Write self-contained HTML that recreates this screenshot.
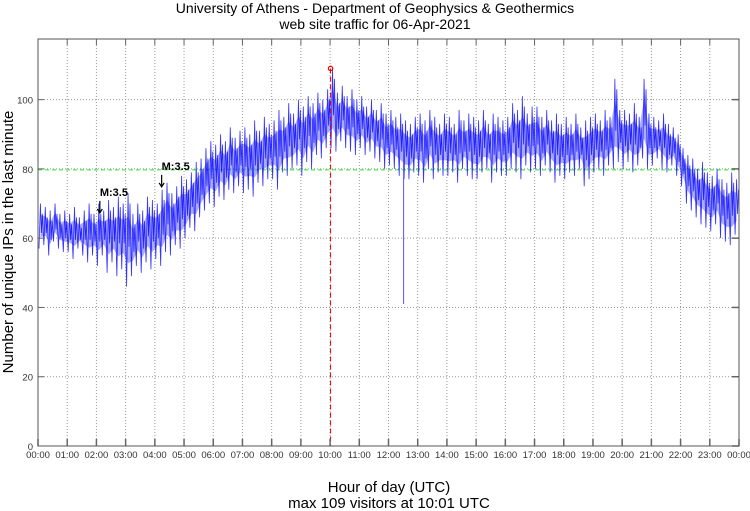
<!DOCTYPE html>
<html><head><meta charset="utf-8"><style>
html,body{margin:0;padding:0;background:#fff;}
svg{display:block;font-family:"Liberation Sans",sans-serif;}
</style></head><body>
<svg id="chart" width="750" height="511" xmlns="http://www.w3.org/2000/svg">
<text x="375" y="13" font-size="14" text-anchor="middle">University of Athens - Department of Geophysics &amp; Geothermics</text>
<text x="375" y="29" font-size="14" text-anchor="middle">web site traffic for 06-Apr-2021</text>
<g id="grid"></g>
<g id="series"></g>
<g id="axes"></g>
<text transform="translate(13,242) rotate(-90)" font-size="15" text-anchor="middle">Number of unique IPs in the last minute</text>
<text x="389" y="492" font-size="15" text-anchor="middle">Hour of day (UTC)</text>
<text x="389" y="508" font-size="15" text-anchor="middle">max 109 visitors at 10:01 UTC</text>
</svg>
<script>
const hourLabels = ["00:00","01:00","02:00","03:00","04:00","05:00","06:00","07:00","08:00","09:00","10:00","11:00","12:00","13:00","14:00","15:00","16:00","17:00","18:00","19:00","20:00","21:00","22:00","23:00","00:00"];
const yTicks = [0,20,40,60,80,100];
// per 10-minute bucket minimum and maximum visitors
const lowValues = [57,58,55,59,57,56, 56,54,57,55,53,55, 52,55,50,53,49,51, 46,49,52,50,53,51, 54,52,56,55,58,57, 60,63,62,66,68,70,
 69,72,71,74,73,75, 73,74,72,76,75,77, 77,74,79,78,80,81, 78,82,80,84,83,86, 86,85,88,86,85,84, 86,84,85,83,82,80,
 81,80,78,77,77,79, 78,76,80,77,79,78, 78,79,76,80,78,77, 77,79,80,76,79,78, 78,80,79,77,81,79, 80,78,81,79,76,78,
 77,79,78,80,75,77, 79,80,78,81,80,82, 80,82,79,81,83,80, 81,83,80,79,81,78, 75,70,68,66,64,63, 62,64,60,59,58,61];
const highValues = [70,69,68,70,67,68, 67,69,66,68,70,67, 70,68,71,69,72,70, 73,67,70,68,72,71, 70,74,76,73,75,78, 77,79,82,83,86,88,
 87,90,88,92,89,91, 92,90,94,91,95,93, 94,97,95,99,96,100, 98,101,99,102,100,103, 109,102,104,101,103,100, 101,98,100,97,99,96,
 97,95,96,94,93,95, 96,94,97,95,93,96, 95,93,97,94,96,95, 94,97,93,96,95,94, 95,99,97,101,96,98, 98,95,97,94,96,93,
 95,93,96,92,94,95, 96,94,97,95,106,97, 97,96,99,95,106,96, 95,94,96,93,92,90, 86,84,83,80,82,79, 78,80,77,76,79,77];
const spikeMinutes = [751];
const spikeValues = [41];
const maxMinute = 601, maxValue = 109;
const refLevel = 79.7;
const quakeMinutes = [127, 254];
const quakeLabels = ["M:3.5","M:3.5"];
const quakeLevels = [67.3, 74.8];

const L=38,R=739,T=39,B=446,YMAX=117.5;
const xs = m => L + (R-L)*m/1440;
const ys = v => B - (B-T)*v/YMAX;
const NS="http://www.w3.org/2000/svg";
function mk(tag, attrs, parent){const e=document.createElementNS(NS,tag);for(const k in attrs)e.setAttribute(k,attrs[k]);parent.appendChild(e);return e;}
const grid=document.getElementById('grid'), axes=document.getElementById('axes'), series=document.getElementById('series');

hourLabels.forEach((lab,i)=>{
  const x=xs(i*60);
  if(i>0&&i<24){const g=mk('line',{x1:x,x2:x,y1:T,y2:B,stroke:'#999','stroke-dasharray':'1,2'},grid);
  
  }
  const tk=mk('line',{x1:x,x2:x,y1:B,y2:B-7,stroke:'#666','stroke-width':1.5},axes);
  
  
  const tk2=mk('line',{x1:x,x2:x,y1:T,y2:T+6,stroke:'#666','stroke-width':1},axes);
  
  
  const t=mk('text',{x:x,y:458,'font-size':9.5,'text-anchor':'middle',fill:'#333'},axes);
  t.textContent=lab;
  
  
});
yTicks.forEach(v=>{
  const y=ys(v);
  if(v>0){const g=mk('line',{x1:L,x2:R,y1:y,y2:y,stroke:'#999','stroke-dasharray':'1,2'},grid);
  
  }
  const a=mk('line',{x1:L,x2:L+6,y1:y,y2:y,stroke:'#666'},axes);
  
  
  const b=mk('line',{x1:R-7,x2:R,y1:y,y2:y,stroke:'#666','stroke-width':1.5},axes);
  
  
  const t=mk('text',{x:33,y:y+4,'font-size':9.5,'text-anchor':'end',fill:'#333'},axes);
  t.textContent=v;
  
  
});
const frame=mk('rect',{x:L,y:T,width:R-L,height:B-T,fill:'none',stroke:'#555','stroke-width':1},axes);



const ref=mk('line',{x1:L,x2:R,y1:ys(refLevel),y2:ys(refLevel),stroke:'#2e2','stroke-dasharray':'4,3'},grid);



let up=[],dn=[];
lowValues.forEach((lo,i)=>{const hi=highValues[i];const m=i*10+5;
  up.push(xs(m)+','+ys(hi-(hi-lo)*0.25));dn.push(xs(m)+','+ys(lo+(hi-lo)*0.25));});
const band=mk('polygon',{points:up.concat(dn.reverse()).join(' '),fill:'#4444ff','fill-opacity':0.45},series);


let pts=[];
lowValues.forEach((lo,i)=>{const hi=highValues[i];
  pts.push(xs(i*10+2)+','+ys(lo));pts.push(xs(i*10+5)+','+ys(hi));
  pts.push(xs(i*10+7)+','+ys((lo+hi)/2-2));pts.push(xs(i*10+9)+','+ys(hi-3));});
const line=mk('polyline',{points:pts.join(' '),fill:'none',stroke:'#0000ff','stroke-width':0.8,'stroke-opacity':0.8},series);


spikeMinutes.forEach((m,i)=>{
  const b=Math.floor(m/10);
  const s=mk('line',{x1:xs(m),x2:xs(m),y1:ys((lowValues[b]+highValues[b])/2),y2:ys(spikeValues[i]),stroke:'#5555ff','stroke-width':1},series);
  
  
});

const mx=xs(maxMinute);
const ml=mk('line',{x1:mx,x2:mx,y1:ys(maxValue),y2:B,stroke:'#e00','stroke-dasharray':'5,3'},series);


const mc=mk('circle',{cx:mx,cy:ys(maxValue),r:2.2,fill:'none',stroke:'#e00','stroke-width':1.2},series);



quakeMinutes.forEach((m,i)=>{
  const x=xs(m), tip=ys(quakeLevels[i]);
  const t=mk('text',{x:x,y:tip-17,'font-size':11,'font-weight':'bold'},series);
  t.textContent=quakeLabels[i];
  
  
  const a=mk('path',{d:`M${x} ${tip-12} V${tip} M${x-2.5} ${tip-4} L${x} ${tip} L${x+2.5} ${tip-4}`,stroke:'#000',fill:'none','stroke-width':1.2},series);
  
  
});
</script>
</body></html>
